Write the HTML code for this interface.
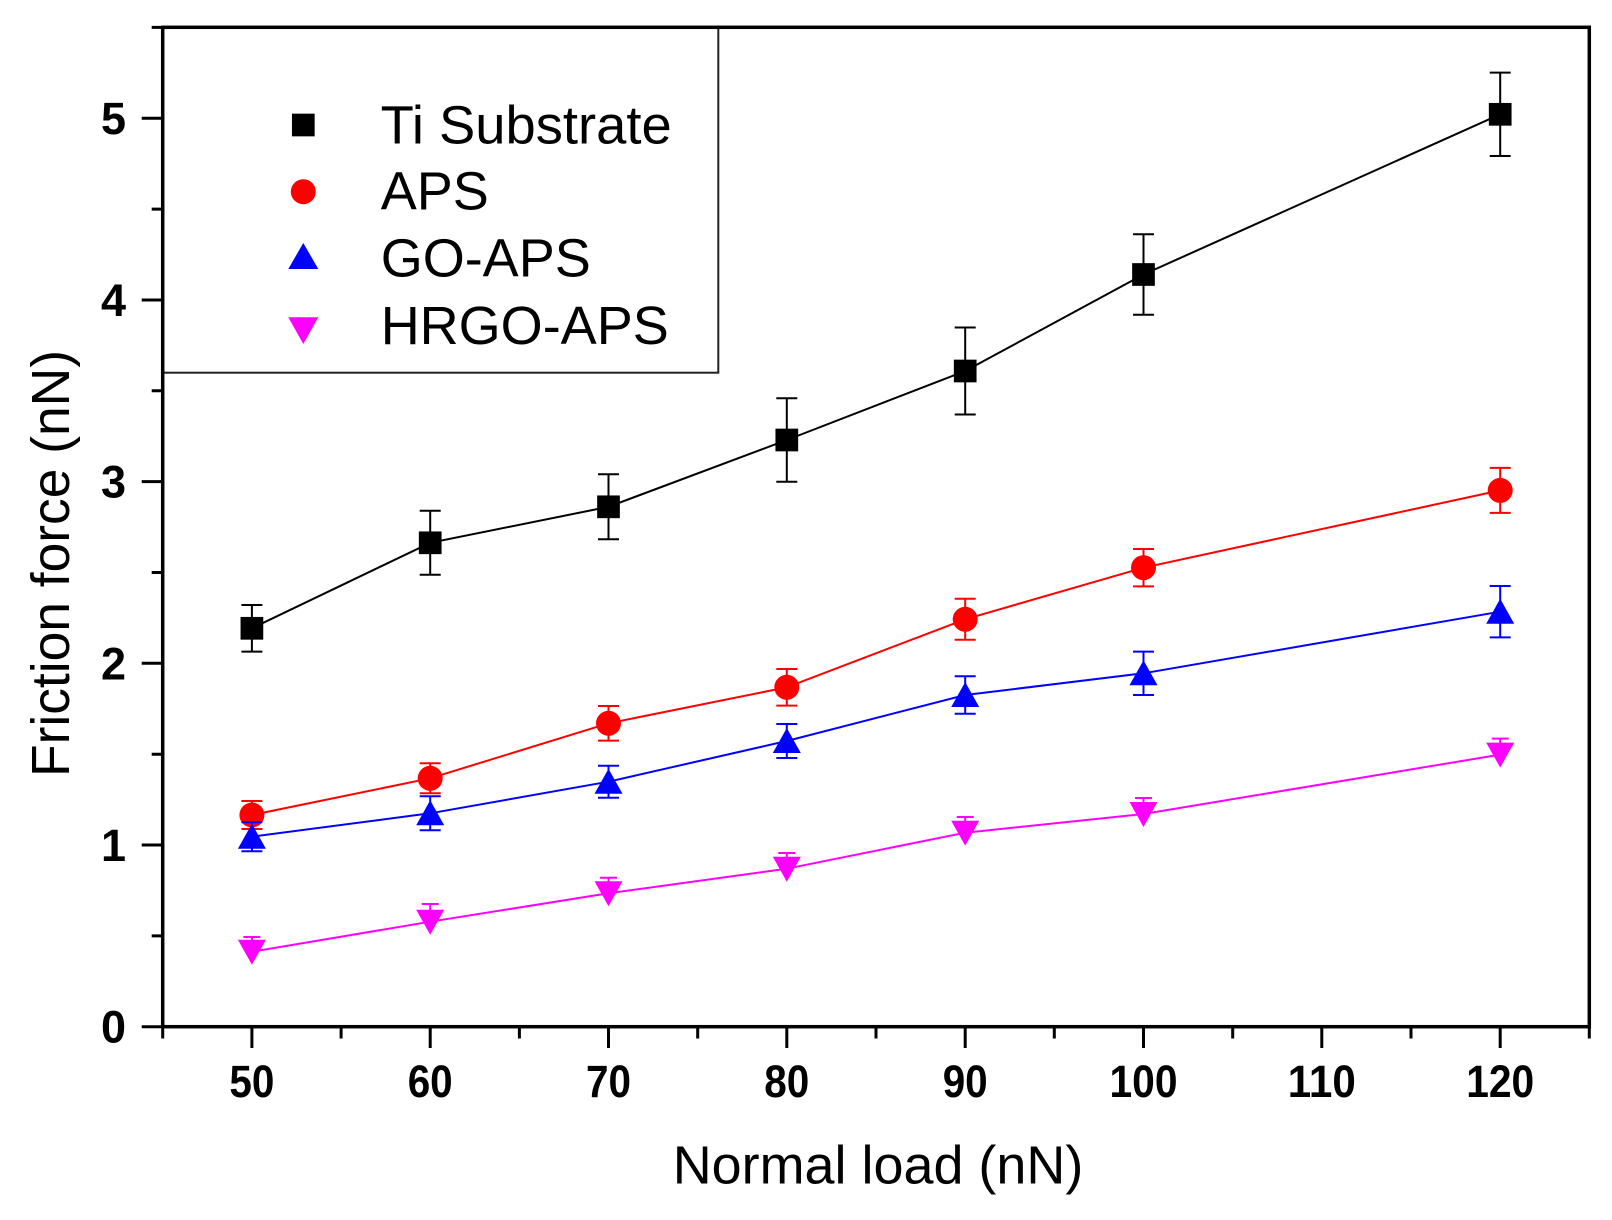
<!DOCTYPE html>
<html>
<head>
<meta charset="utf-8">
<style>
html,body{margin:0;padding:0;background:#fff;}
svg{display:block;}
text{font-family:"Liberation Sans",Arial,sans-serif;fill:#000;}
</style>
</head>
<body>
<svg width="1612" height="1220" viewBox="0 0 1612 1220" xmlns="http://www.w3.org/2000/svg">
<rect x="0" y="0" width="1612" height="1220" fill="#fff"/>

<!-- Legend box -->
<rect x="162.7" y="27.3" width="555.6" height="345.4" fill="none" stroke="#222" stroke-width="2"/>

<!-- Series: Ti Substrate -->
<g stroke="#000" stroke-width="2" fill="none">
<polyline points="251.9,628.3 430.2,542.8 608.5,506.8 786.8,440 965.2,371 1143.5,274.5 1500.2,114.3"/>
<path d="M251.9,605 V651.6 M241.4,605 H262.4 M241.4,651.6 H262.4
M430.2,510.8 V574.8 M419.7,510.8 H440.7 M419.7,574.8 H440.7
M608.5,474.3 V539.3 M598,474.3 H619 M598,539.3 H619
M786.8,398.3 V481.7 M776.3,398.3 H797.3 M776.3,481.7 H797.3
M965.2,327.5 V414.5 M954.7,327.5 H975.7 M954.7,414.5 H975.7
M1143.5,234.2 V314.8 M1133,234.2 H1154 M1133,314.8 H1154
M1500.2,72.6 V156 M1489.7,72.6 H1510.7 M1489.7,156 H1510.7"/>
</g>
<g fill="#000">
<rect x="240.55" y="616.95" width="22.7" height="22.7"/>
<rect x="418.85" y="531.45" width="22.7" height="22.7"/>
<rect x="597.15" y="495.45" width="22.7" height="22.7"/>
<rect x="775.45" y="428.65" width="22.7" height="22.7"/>
<rect x="953.85" y="359.65" width="22.7" height="22.7"/>
<rect x="1132.15" y="263.15" width="22.7" height="22.7"/>
<rect x="1488.85" y="102.95" width="22.7" height="22.7"/>
</g>

<!-- Series: APS -->
<g stroke="#f00" stroke-width="2" fill="none">
<polyline points="251.9,815 430.2,778.3 608.5,723.3 786.8,687.3 965.2,619.3 1143.5,567.7 1500.2,490.4"/>
<path d="M251.9,801 V829 M241.4,801 H262.4 M241.4,829 H262.4
M430.2,763.3 V793.3 M419.7,763.3 H440.7 M419.7,793.3 H440.7
M608.5,706 V740.6 M598,706 H619 M598,740.6 H619
M786.8,669 V705.6 M776.3,669 H797.3 M776.3,705.6 H797.3
M965.2,598.8 V639.8 M954.7,598.8 H975.7 M954.7,639.8 H975.7
M1143.5,549 V586.4 M1133,549 H1154 M1133,586.4 H1154
M1500.2,467.9 V512.9 M1489.7,467.9 H1510.7 M1489.7,512.9 H1510.7"/>
</g>
<g fill="#f00">
<circle cx="251.9" cy="815" r="12.5"/>
<circle cx="430.2" cy="778.3" r="12.5"/>
<circle cx="608.5" cy="723.3" r="12.5"/>
<circle cx="786.8" cy="687.3" r="12.5"/>
<circle cx="965.2" cy="619.3" r="12.5"/>
<circle cx="1143.5" cy="567.7" r="12.5"/>
<circle cx="1500.2" cy="490.4" r="12.5"/>
</g>

<!-- Series: GO-APS -->
<g stroke="#00f" stroke-width="2" fill="none">
<polyline points="251.9,836.7 430.2,813.3 608.5,781.7 786.8,741 965.2,695 1143.5,673.3 1500.2,611.7"/>
<path d="M251.9,822.2 V851.2 M241.4,822.2 H262.4 M241.4,851.2 H262.4
M430.2,796.3 V830.3 M419.7,796.3 H440.7 M419.7,830.3 H440.7
M608.5,765.7 V797.7 M598,765.7 H619 M598,797.7 H619
M786.8,724 V758 M776.3,724 H797.3 M776.3,758 H797.3
M965.2,676.3 V713.7 M954.7,676.3 H975.7 M954.7,713.7 H975.7
M1143.5,651.6 V695 M1133,651.6 H1154 M1133,695 H1154
M1500.2,586 V637.4 M1489.7,586 H1510.7 M1489.7,637.4 H1510.7"/>
</g>
<g fill="#00f">
<polygon points="237.9,848.7 265.9,848.7 251.9,823.7"/>
<polygon points="416.2,825.3 444.2,825.3 430.2,800.3"/>
<polygon points="594.5,793.7 622.5,793.7 608.5,768.7"/>
<polygon points="772.8,753 800.8,753 786.8,728"/>
<polygon points="951.2,707 979.2,707 965.2,682"/>
<polygon points="1129.5,685.3 1157.5,685.3 1143.5,660.3"/>
<polygon points="1486.2,623.7 1514.2,623.7 1500.2,598.7"/>
</g>

<!-- Series: HRGO-APS -->
<g stroke="#f0f" stroke-width="2" fill="none">
<polyline points="251.9,951.7 430.2,921.7 608.5,893.3 786.8,868.7 965.2,832.7 1143.5,814 1500.2,754.6"/>
<path d="M251.9,937 V957 M243.4,937 H260.4
M430.2,904 V927 M421.7,904 H438.7
M608.5,877.7 V899 M600,877.7 H617
M786.8,853 V874 M778.3,853 H795.3
M965.2,817 V838 M956.7,817 H973.7
M1143.5,798 V819 M1135,798 H1152
M1500.2,738.6 V760 M1491.7,738.6 H1508.7"/>
</g>
<g fill="#f0f">
<polygon points="237.9,939.7 265.9,939.7 251.9,964.7"/>
<polygon points="416.2,909.7 444.2,909.7 430.2,934.7"/>
<polygon points="594.5,881.3 622.5,881.3 608.5,906.3"/>
<polygon points="772.8,856.7 800.8,856.7 786.8,881.7"/>
<polygon points="951.2,820.7 979.2,820.7 965.2,845.7"/>
<polygon points="1129.5,802 1157.5,802 1143.5,827"/>
<polygon points="1486.2,742.6 1514.2,742.6 1500.2,767.6"/>
</g>

<!-- Axes frame -->
<rect x="162.7" y="27.3" width="1426.6" height="999.4" fill="none" stroke="#000" stroke-width="3.5"/>

<!-- X ticks -->
<g stroke="#000" stroke-width="3">
<path d="M251.9,1026.7 V1048 M430.2,1026.7 V1048 M608.5,1026.7 V1048 M786.8,1026.7 V1048 M965.2,1026.7 V1048 M1143.5,1026.7 V1048 M1321.8,1026.7 V1048 M1500.2,1026.7 V1048"/>
<path d="M162.7,1026.7 V1038.5 M341.1,1026.7 V1038.5 M519.4,1026.7 V1038.5 M697.7,1026.7 V1038.5 M876,1026.7 V1038.5 M1054.3,1026.7 V1038.5 M1232.7,1026.7 V1038.5 M1411,1026.7 V1038.5 M1589.3,1026.7 V1038.5"/>
<!-- Y ticks -->
<path d="M141.7,1026.7 H162.7 M141.7,845 H162.7 M141.7,663.3 H162.7 M141.7,481.6 H162.7 M141.7,300 H162.7 M141.7,118.2 H162.7"/>
<path d="M151.7,935.9 H162.7 M151.7,754.2 H162.7 M151.7,572.5 H162.7 M151.7,390.8 H162.7 M151.7,209.1 H162.7 M151.7,27.4 H162.7"/>
</g>

<!-- X tick labels -->
<g font-size="45" font-weight="bold" text-anchor="middle">
<text x="251.9" y="1097" textLength="45" lengthAdjust="spacingAndGlyphs">50</text>
<text x="430.2" y="1097" textLength="45" lengthAdjust="spacingAndGlyphs">60</text>
<text x="608.5" y="1097" textLength="45" lengthAdjust="spacingAndGlyphs">70</text>
<text x="786.8" y="1097" textLength="45" lengthAdjust="spacingAndGlyphs">80</text>
<text x="965.2" y="1097" textLength="45" lengthAdjust="spacingAndGlyphs">90</text>
<text x="1143.5" y="1097" textLength="68" lengthAdjust="spacingAndGlyphs">100</text>
<text x="1321.8" y="1097" textLength="68" lengthAdjust="spacingAndGlyphs">110</text>
<text x="1500.2" y="1097" textLength="68" lengthAdjust="spacingAndGlyphs">120</text>
</g>

<!-- Y tick labels -->
<g font-size="45" font-weight="bold" text-anchor="end">
<text x="126" y="1042.7">0</text>
<text x="126" y="861">1</text>
<text x="126" y="679.3">2</text>
<text x="126" y="497.6">3</text>
<text x="126" y="316">4</text>
<text x="126" y="134.2">5</text>
</g>

<!-- Axis titles -->
<text x="672.7" y="1183.3" font-size="54" textLength="410.6" lengthAdjust="spacingAndGlyphs">Normal load (nN)</text>
<text transform="translate(69,777) rotate(-90)" font-size="54" textLength="427" lengthAdjust="spacingAndGlyphs">Friction force (nN)</text>

<!-- Legend -->
<rect x="291.95" y="113.65" width="22.7" height="22.7" fill="#000"/>
<circle cx="303.3" cy="191.7" r="12.5" fill="#f00"/>
<polygon points="288.3,269 318.3,269 303.3,243" fill="#00f"/>
<polygon points="288.3,317.3 318.3,317.3 303.3,344" fill="#f0f"/>
<g font-size="54">
<text x="380.7" y="143.3" textLength="291" lengthAdjust="spacingAndGlyphs">Ti Substrate</text>
<text x="380.7" y="209.3">APS</text>
<text x="380.7" y="276.7">GO-APS</text>
<text x="380.7" y="344">HRGO-APS</text>
</g>
</svg>
</body>
</html>
